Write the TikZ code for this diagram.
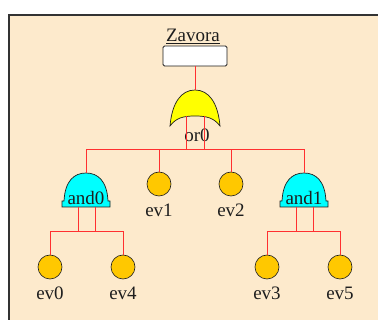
\documentclass[tikz,border=0pt]{standalone}
\usepackage{fontspec}
\setmainfont{Liberation Serif}
\definecolor{panel}{RGB}{253,234,204}
\definecolor{wirered}{RGB}{255,48,48}
\definecolor{evfill}{RGB}{255,200,0}
\definecolor{orfill}{RGB}{255,255,0}
\definecolor{andfill}{RGB}{0,255,255}
\definecolor{ink}{RGB}{30,30,30}
\begin{document}
\begin{tikzpicture}[x=1pt,y=-1pt,
  wire/.style={draw=wirered, line width=1pt},
  event/.style={circle, draw=ink, fill=evfill, minimum size=24pt, inner sep=0pt, line width=0.6pt},
  lbl/.style={font=\fontsize{19}{21}\selectfont, text=ink, inner sep=0pt, anchor=base},
  gateline/.style={draw=ink, line width=0.7pt}
]
\useasboundingbox (0,0) rectangle (378,320);
% panel
\fill[white] (0,0) rectangle (378,320);
\fill[panel] (9,15) rectangle (380,322);
\draw[black!80, line width=1.4pt] (9,322) -- (9,15) -- (380,15);

% top event
\node[lbl] (ztxt) at (193,42) {\underline{Zavora}};
\node[draw=ink, fill=white, rounded corners=1.5pt, line width=0.8pt,
      minimum width=64pt, minimum height=20pt, inner sep=0pt] (top) at (195,56) {};

% OR gate
\coordinate (orout) at (195,90);
\coordinate (orinA) at (186,116);
\coordinate (orinB) at (204,116);
\path[gateline, fill=orfill] (170,126) .. controls (172,103) and (181,90) .. (orout)
  .. controls (209,90) and (218,103) .. (220,126)
  .. controls (214,118) and (207,116) .. (195,116)
  .. controls (183,116) and (176,118) .. (170,126) -- cycle;
\node[lbl] (orlbl) at (197,142) {or0};

% AND gates
\foreach \n/\cx in {and0/86, and1/304} {
  \path[gateline, fill=andfill] (\cx-24,207) -- (\cx-24,201) -- (\cx-22,201)
    .. controls (\cx-21,181) and (\cx-12,173) .. (\cx,173)
    .. controls (\cx+12,173) and (\cx+21,181) .. (\cx+22,201)
    -- (\cx+24,201) -- (\cx+24,207) -- cycle;
  \coordinate (\n out) at (\cx,173);
  \coordinate (\n inA) at (\cx-8,207);
  \coordinate (\n inB) at (\cx+9,207);
  \node[lbl] (\n lbl) at (\cx,205) {\n};
}

% basic events
\node[event] (ev1) at (159,184) {};
\node[event] (ev2) at (231,184) {};
\node[event] (ev0) at (50,267) {};
\node[event] (ev4) at (123,267) {};
\node[event] (ev3) at (267,267) {};
\node[event] (ev5) at (340,267) {};
\foreach \e/\y in {ev1/217, ev2/217, ev0/300, ev4/300, ev3/300, ev5/300} {
  \node[lbl] (\e lbl) at (\e |- 0,\y) {\e};
}

% connectors
\coordinate (busT) at (0,150);
\coordinate (busL) at (0,232);
\draw[wire] (top.south) -- (orout);
\draw[wire] (orinA) -- (orinA |- busT);
\draw[wire] (orinB) -- (orinB |- busT);
\draw[wire] (and0out) -- (and0out |- busT) -- (and1out |- busT) -- (and1out);
\draw[wire] (ev1.north) -- (ev1 |- busT);
\draw[wire] (ev2.north) -- (ev2 |- busT);
\draw[wire] (and0inA) -- (and0inA |- busL);
\draw[wire] (and0inB) -- (and0inB |- busL);
\draw[wire] (ev0.north) -- (ev0 |- busL) -- (ev4 |- busL) -- (ev4.north);
\draw[wire] (and1inA) -- (and1inA |- busL);
\draw[wire] (and1inB) -- (and1inB |- busL);
\draw[wire] (ev3.north) -- (ev3 |- busL) -- (ev5 |- busL) -- (ev5.north);
\end{tikzpicture}
\end{document}
